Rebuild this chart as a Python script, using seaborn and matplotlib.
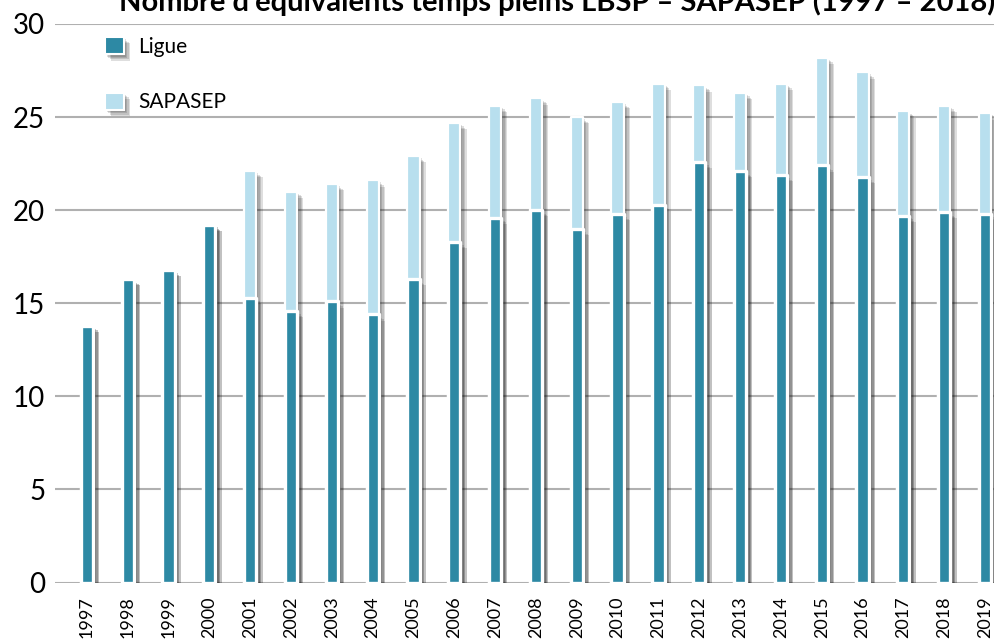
import matplotlib
matplotlib.use('Agg')
import matplotlib.pyplot as plt
import matplotlib.patheffects as pe
from matplotlib.patches import Patch
import seaborn as sns
import pandas as pd

years = ['1997', '1998', '1999', '2000', '2001', '2002', '2003', '2004', '2005', '2006',
         '2007', '2008', '2009', '2010', '2011', '2012', '2013', '2014', '2015', '2016',
         '2017', '2018', '2019']
ligue = [13.8, 16.3, 16.8, 19.2, 15.3, 14.6, 15.1, 14.4, 16.3, 18.3,
         19.6, 20.0, 19.0, 19.8, 20.3, 22.6, 22.1, 21.9, 22.4, 21.8,
         19.7, 19.9, 19.8]
sapasep = [0.0, 0.0, 0.0, 0.0, 6.8, 6.4, 6.3, 7.2, 6.6, 6.4,
           6.0, 6.0, 6.0, 6.0, 6.5, 4.1, 4.2, 4.9, 5.8, 5.6,
           5.6, 5.7, 5.4]
series_labels = ['Ligue', 'SAPASEP']
yticks = [0, 5, 10, 15, 20, 25, 30]
title = "Nombre d'équivalents temps pleins LBSP – SAPASEP (1997 – 2018)"

DARK = '#2d89a4'
LIGHT = '#b8dfee'

sns.set_theme(style='white')
plt.rcParams['font.family'] = ['Lato', 'DejaVu Sans']

df = pd.DataFrame({'year': years, 'ligue': ligue, 'sapasep': sapasep})
df['total'] = df['ligue'] + df['sapasep']

W, H = 994, 644
fig = plt.figure(figsize=(W / 100, H / 100), dpi=100)
ax = fig.add_axes([55 / W, (H - 582.5) / H, 1 - 55 / W, (582.5 - 24) / H])

shadow = [pe.SimplePatchShadow(offset=(d, -d), shadow_rgbFace='black', alpha=0.13)
          for d in (4.5, 3.5, 2.5, 1.5)] + [pe.Normal()]

sns.barplot(data=df, x='year', y='total', color=LIGHT, saturation=1, width=0.3,
            edgecolor='white', linewidth=1.6, ax=ax, order=years)
for p in ax.patches:
    p.set_path_effects(shadow)
    p.set_joinstyle('round')
n = len(ax.patches)
sns.barplot(data=df, x='year', y='ligue', color=DARK, saturation=1, width=0.3,
            edgecolor='white', linewidth=2.4, ax=ax, order=years)
for p in ax.patches[n:]:
    p.set_path_effects(shadow)
    p.set_joinstyle('round')

ax.set_xlim(-0.78, 22.22)
ax.set_ylim(0, 30)
ax.set_yticks(yticks)
ax.yaxis.grid(True, color='#b0b0b0', linewidth=1.5)
ax.xaxis.grid(False)
ax.set_axisbelow(True)
for s in ax.spines.values():
    s.set_visible(False)
ax.set_xlabel('')
ax.set_ylabel('')
ax.tick_params(axis='y', length=0, pad=7, labelsize=20, labelcolor='black')
ax.tick_params(axis='x', length=0, pad=10, labelsize=13, labelcolor='black', rotation=90)

fig.text(0.56, 1 - 11 / H, title, ha='center', va='baseline', fontsize=21,
         fontweight='bold', color='black')

handles = [Patch(facecolor=DARK, edgecolor='white', linewidth=1.5, path_effects=shadow),
           Patch(facecolor=LIGHT, edgecolor='white', linewidth=1.5, path_effects=shadow)]
leg = ax.legend(handles, series_labels, loc='upper left', bbox_to_anchor=(105 / W, 1 - 37 / H),
                bbox_transform=fig.transFigure, frameon=False, fontsize=15,
                handlelength=0.9, handleheight=0.9, labelspacing=1.7,
                handletextpad=0.7, borderpad=0, borderaxespad=0)
for t in leg.get_texts():
    t.set_color('black')

fig.savefig('out.png', dpi=100)
